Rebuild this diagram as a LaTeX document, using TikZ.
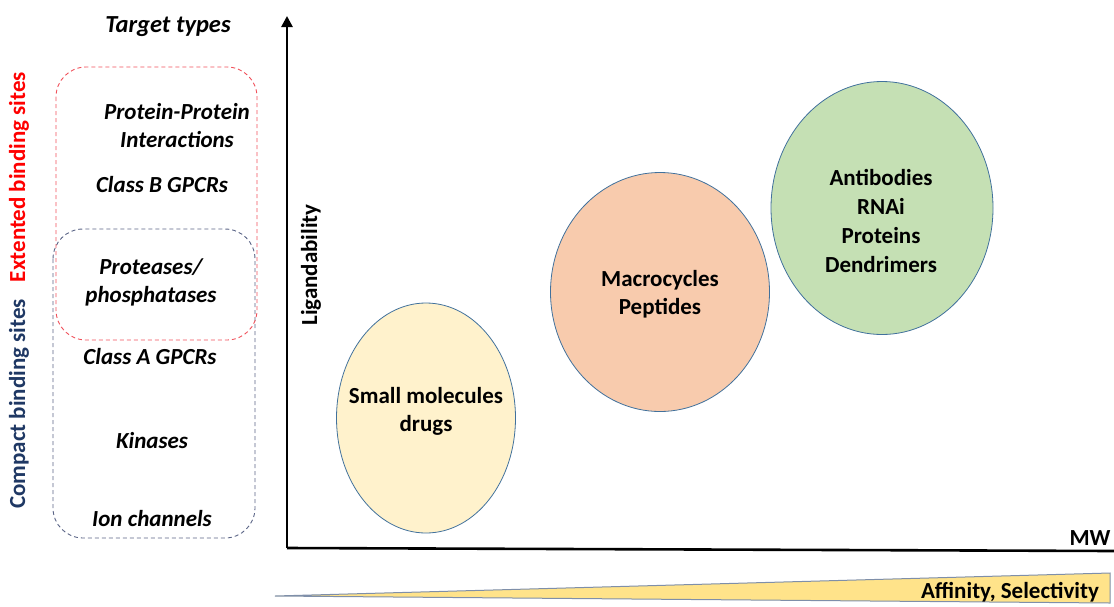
\documentclass[tikz,border=0pt]{standalone}
\usepackage{fontspec}
\setmainfont{Carlito}
\usetikzlibrary{shapes.geometric, arrows.meta}

\definecolor{siteRed}{HTML}{FF0000}
\definecolor{siteNavy}{HTML}{1F3864}
\definecolor{boxRed}{HTML}{F0505A}
\definecolor{boxBlue}{HTML}{5A6486}
\definecolor{rimBlue}{HTML}{41719C}
\definecolor{smallFill}{HTML}{FFF2CC}
\definecolor{macroFill}{HTML}{F8CBAD}
\definecolor{bioFill}{HTML}{C5E0B4}
\definecolor{wedgeFill}{HTML}{FFE38A}
\definecolor{wedgeRim}{HTML}{7F8FA9}

\begin{document}
\begin{tikzpicture}[x=1pt, y=-1pt,
    target/.style={font=\fontsize{23}{28}\selectfont\bfseries\itshape, align=center},
    side/.style={rotate=90, font=\fontsize{23}{26}\selectfont\bfseries},
    modality/.style={ellipse, draw=rimBlue, line width=0.8pt, inner sep=0pt},
    label/.style={font=\fontsize{23}{28}\selectfont\bfseries, align=center},
    sitebox/.style={dashed, dash pattern=on 4pt off 3pt, line width=0.9pt, rounded corners=30pt},
    axis/.style={line width=2.6pt}]
\useasboundingbox (0,0) rectangle (1114,606);

% binding site groups
\draw[sitebox, boxBlue] (53,229) rectangle (255,538);
\draw[sitebox, boxRed] (56,67) rectangle (257,340);
\node[side, text=siteRed] (ext) at (19,177) {Extented binding sites};
\node[side, text=siteNavy] (cmp) at (19,404) {Compact binding sites};

% target types
\node[target, font=\fontsize{24.5}{28}\selectfont\bfseries\itshape] (title) at (168,27) {Target types};
\node[target] (ppi) at (177,126) {Protein-Protein\\Interactions};
\node[target] (gpcrB) at (162,185) {Class B GPCRs};
\node[target] (prot) at (151,282) {Proteases/\\phosphatases};
\node[target] (gpcrA) at (150,357) {Class A GPCRs};
\node[target] (kin) at (152,441) {Kinases};
\node[target] (ion) at (152,519) {Ion channels};

% axes
\coordinate (origin) at (287,548);
\coordinate (ytop) at (287,16);
\coordinate (xend) at (1114,551);
\draw[axis, -{Triangle[length=11pt, width=11pt]}] (origin) -- (ytop);
\draw[axis] (origin) -- (xend);
\node[side] (ylab) at (311,265) {Ligandability};
\node[label] (xlab) at (1090,538) {MW};

% modalities
\node[modality, fill=smallFill, minimum width=179pt, minimum height=230pt] (small) at (426,418) {};
\node[label] (smalltxt) at (426,411) {Small molecules\\drugs};
\node[modality, fill=macroFill, minimum width=219pt, minimum height=239pt] (macro) at (660,292) {};
\node[label] (macrotxt) at (660,294) {Macrocycles\\Peptides};
\node[modality, fill=bioFill, minimum width=222pt, minimum height=253pt] (bio) at (882,208) {};
\node[label, font=\fontsize{23}{29}\selectfont\bfseries] (biotxt) at (881,221) {Antibodies\\RNAi\\Proteins\\Dendrimers};

% affinity wedge
\coordinate (tip) at (275,596);
\coordinate (wtop) at (1110,573);
\coordinate (wbot) at (1110,603);
\draw[wedgeRim, fill=wedgeFill, line width=1pt] (tip) -- (wtop) -- (wbot) -- cycle;
\node[label] (afflab) at (1010,592) {Affinity, Selectivity};
\end{tikzpicture}
\end{document}
